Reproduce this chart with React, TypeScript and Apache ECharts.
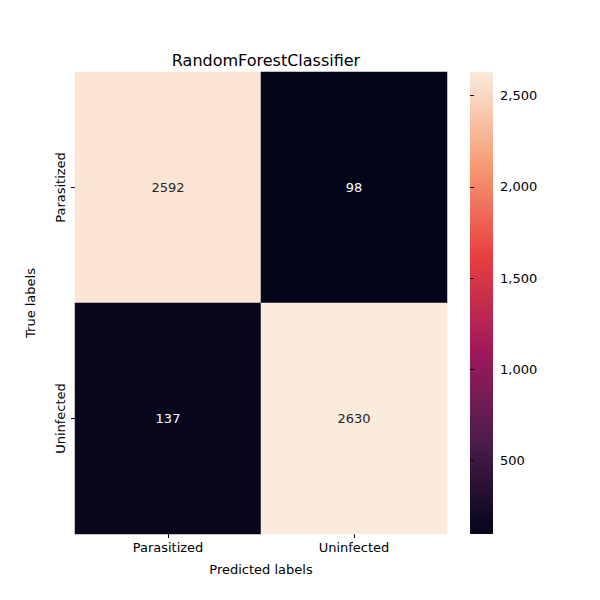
import React, { useEffect, useRef } from "react";
import * as echarts from "echarts";

const xLabels = ["Parasitized", "Uninfected"];
const yLabels = ["Parasitized", "Uninfected"];
// [col, row, value]
const cells: [number, number, number][] = [
  [0, 0, 2592],
  [1, 0, 98],
  [0, 1, 137],
  [1, 1, 2630],
];
const vMin = 98;
const vMax = 2630;
const cbarTicks = [500, 1000, 1500, 2000, 2500];
const rocket = ["#03051a", "#4c1d4b", "#a11a5b", "#e83f3f", "#f69c73", "#faebdd"];
const FONT = "DejaVu Sans";

export default function App() {
  const ref = useRef<HTMLDivElement>(null);
  useEffect(() => {
    document.body.style.margin = "0";
    const chart = echarts.init(ref.current!, null, { renderer: "svg" });
    const mid = (vMin + vMax) / 2;
    chart.setOption({
      animation: false,
      backgroundColor: "#fff",
      textStyle: { fontFamily: FONT },
      title: {
        text: "RandomForestClassifier",
        left: 261, top: 47, textAlign: "center",
        textStyle: { fontFamily: FONT, fontSize: 16, fontWeight: "normal", color: "#000" },
      },
      grid: [
        { left: 75, top: 72, width: 372, height: 462 },
        { left: 470, top: 72, width: 23, height: 462 },
      ],
      xAxis: [
        {
          type: "category", data: xLabels, gridIndex: 0, position: "bottom",
          name: "Predicted labels", nameLocation: "middle", nameGap: 29,
          nameTextStyle: { fontFamily: FONT, fontSize: 13, color: "#000" },
          axisLine: { show: false },
          axisTick: { show: true, alignWithLabel: true, length: 4, lineStyle: { color: "#000" } },
          axisLabel: { fontFamily: FONT, fontSize: 13, color: "#000", margin: 7 },
          splitLine: { show: false },
        },
        { type: "value", gridIndex: 1, show: false, min: 0, max: 1 },
      ],
      yAxis: [
        {
          type: "category", data: yLabels, gridIndex: 0, inverse: true,
          name: "True labels", nameLocation: "middle", nameGap: 38, nameRotate: 90,
          nameTextStyle: { fontFamily: FONT, fontSize: 13, color: "#000" },
          axisLine: { show: false },
          axisTick: { show: true, alignWithLabel: true, length: 4, lineStyle: { color: "#000" } },
          axisLabel: { fontFamily: FONT, fontSize: 13, color: "#000", rotate: 90, margin: 8 },
          splitLine: { show: false },
        },
        {
          type: "value", gridIndex: 1, position: "right", min: vMin, max: vMax,
          axisLine: { show: false },
          splitLine: { show: false },
          axisTick: { show: true, length: 4, customValues: cbarTicks, lineStyle: { color: "#000" } },
          axisLabel: { fontFamily: FONT, fontSize: 13, color: "#000", margin: 7, customValues: cbarTicks },
        },
      ],
      visualMap: {
        show: false, min: vMin, max: vMax, dimension: 2, seriesIndex: 0,
        inRange: { color: rocket },
      },
      graphic: [
        {
          type: "rect", left: 470, top: 72, z: -1,
          shape: { width: 23, height: 462 },
          style: {
            fill: new echarts.graphic.LinearGradient(0, 1, 0, 0,
              rocket.map((c, i) => ({ offset: i / (rocket.length - 1), color: c }))),
          },
        },
      ],
      series: [
        {
          type: "heatmap", xAxisIndex: 0, yAxisIndex: 0,
          data: cells.map((c) => ({
            value: c,
            label: { color: c[2] > mid ? "#262626" : "#ffffff" },
          })),
          label: { show: true, fontFamily: FONT, fontSize: 13, formatter: (p: any) => String(p.value[2]) },
        },
        { type: "scatter", xAxisIndex: 1, yAxisIndex: 1, data: [] },
      ],
    });
    return () => chart.dispose();
  }, []);
  return <div ref={ref} style={{ width: 600, height: 600 }} />;
}
